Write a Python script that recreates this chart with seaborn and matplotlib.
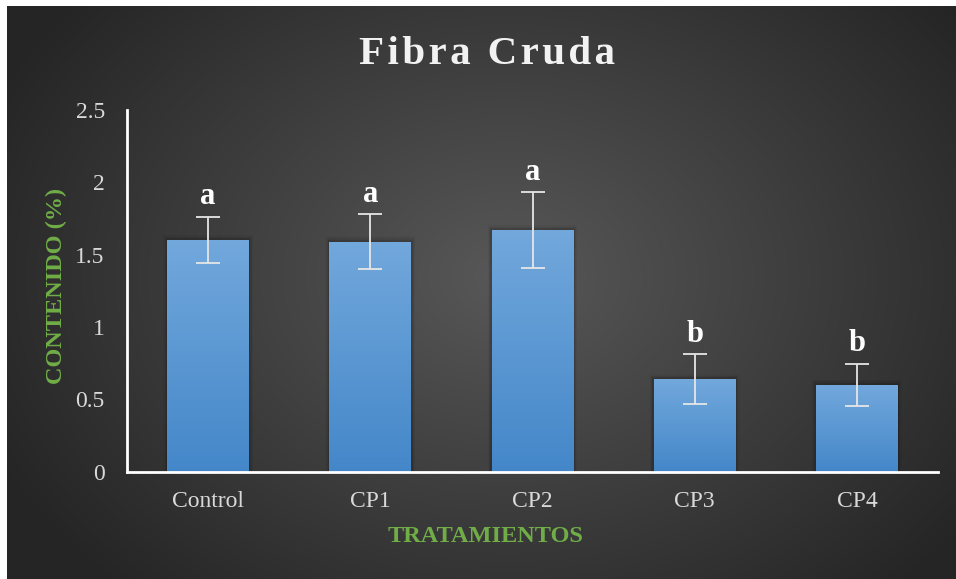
import numpy as np
import pandas as pd
import matplotlib
matplotlib.use("Agg")
import matplotlib.pyplot as plt
import seaborn as sns
from matplotlib.colors import LinearSegmentedColormap

categories = ["Control", "CP1", "CP2", "CP3", "CP4"]
values = [1.60, 1.59, 1.67, 0.64, 0.60]
errors = [0.16, 0.19, 0.26, 0.17, 0.145]
letters = ["a", "a", "a", "b", "b"]
yticks = [0, 0.5, 1, 1.5, 2, 2.5]
ytick_labels = ["0", "0.5", "1", "1.5", "2", "2.5"]
title = "Fibra Cruda"
xlabel = "TRATAMIENTOS"
ylabel = "CONTENIDO (%)"

sns.set_theme(style="white")
plt.rcParams["font.family"] = ["Liberation Serif", "DejaVu Serif"]

W, H = 956, 579
fig = plt.figure(figsize=(W / 100, H / 100), dpi=100)
fig.patch.set_facecolor("white")

# background radial gradient panel
bg = fig.add_axes([7 / W, 0, (W - 7) / W, (H - 6) / H], zorder=0)
yy, xx = np.mgrid[0:573, 0:949]
cx, cy = 500, 270
r = np.sqrt(((xx - cx) / 560.0) ** 2 + ((yy - cy) / 420.0) ** 2)
r = np.clip(r, 0, 1)
c0, c1 = 0x58 / 255, 0x26 / 255
img = c0 + (c1 - c0) * r
bg.imshow(np.dstack([img, img, img]), aspect="auto", extent=[0, 1, 0, 1], origin="upper")
bg.set_axis_off()

df = pd.DataFrame({"cat": categories, "val": values})
ax = fig.add_axes([127 / W, (H - 471.7) / H, 811 / W, 361.8 / H], zorder=1)
ax.set_facecolor("none")
sns.barplot(data=df, x="cat", y="val", ax=ax, color="#5b9bd5", width=0.505,
            errorbar=None, saturation=1, edgecolor="none")

# gradient fill of bars + soft shadow
grad = np.linspace(0, 1, 256).reshape(-1, 1)
cmap = LinearSegmentedColormap.from_list("bars", ["#72a8dc", "#4487c9"])
for p in list(ax.patches):
    x0, y0 = p.get_x(), p.get_y()
    w, h = p.get_width(), p.get_height()
    for k, a in enumerate([0.10, 0.07, 0.04]):
        off = 0.008 * (k + 1)
        sh = plt.Rectangle((x0 - off, y0), w + 2 * off, h + off * 1.5, color="black",
                           alpha=a, zorder=1, lw=0)
        ax.add_patch(sh)
    im = ax.imshow(grad, cmap=cmap, extent=[x0, x0 + w, y0, y0 + h], aspect="auto",
                   origin="upper", zorder=2)
    im.set_clip_path(p)
    p.set_zorder(2)

xs = np.arange(len(categories))
ax.errorbar(xs, values, yerr=errors, fmt="none", ecolor="#e6e6e6", elinewidth=1.3,
            capsize=8.5, capthick=1.3, zorder=3)
for x, v, e, l in zip(xs, values, errors, letters):
    ax.annotate(l, (x, v + e), xytext=(0, 9), textcoords="offset points",
                ha="center", va="baseline", fontsize=22, fontweight="bold",
                color="white", zorder=4)

ax.set_xlim(-0.5, len(categories) - 0.5)
ax.set_ylim(0, 2.5)
ax.set_yticks(yticks)
ax.set_yticklabels(ytick_labels)
ax.tick_params(axis="both", length=0, colors="#d9d9d9", labelsize=17)
ax.tick_params(axis="y", pad=16)
ax.tick_params(axis="x", pad=14)
for s in ["top", "right"]:
    ax.spines[s].set_visible(False)
for s in ["left", "bottom"]:
    ax.spines[s].set_color("white")
    ax.spines[s].set_linewidth(2)
ax.set_xlabel(xlabel, color="#70ad47", fontsize=17.5, fontweight="bold")
ax.set_ylabel(ylabel, color="#70ad47", fontsize=17.5, fontweight="bold")
ax.xaxis.set_label_coords((485 - 127) / 811, -(536 - 471.7) / 361.8)
ax.xaxis.label.set_va("center")
ax.yaxis.set_label_coords(-(127 - 56) / 811, (471.7 - 286) / 361.8)
ax.yaxis.label.set_va("center")
ax.grid(False)

spaced = "\u200a".join(title)
fig.text(487 / W, 1 - 54 / H, spaced, ha="center", va="center", fontsize=29.5,
         fontweight="bold", color="#f2f2f2")

fig.savefig("out.png", dpi=100, facecolor="white")
